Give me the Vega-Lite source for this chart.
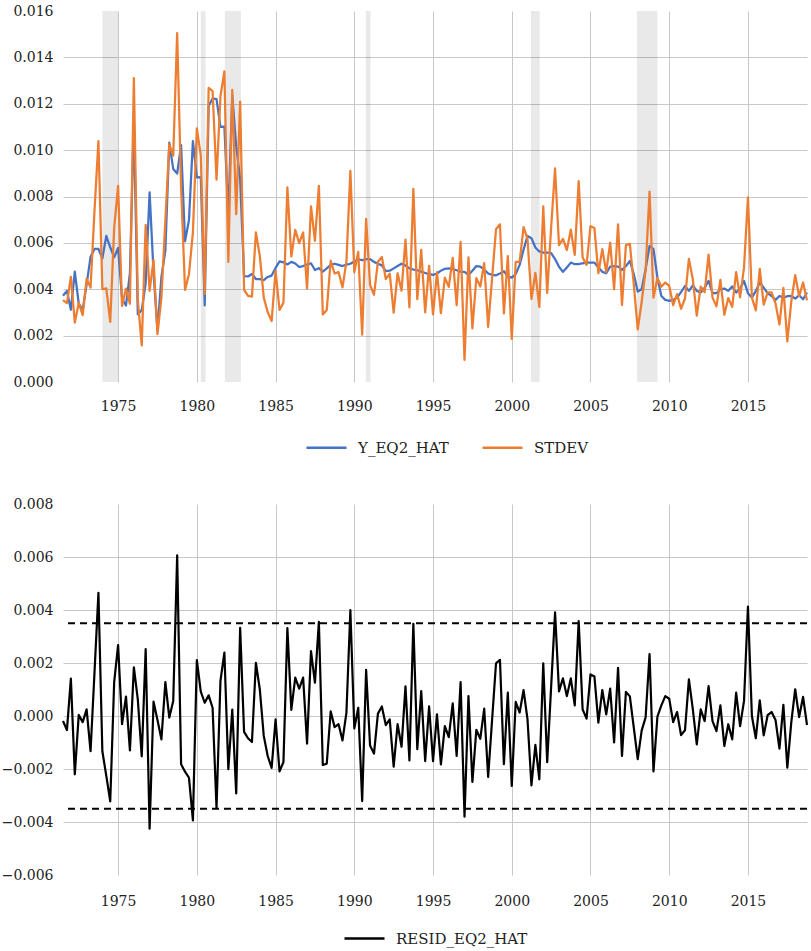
{
  "$schema": "https://vega.github.io/schema/vega-lite/v6.json",
  "background": "white",
  "padding": {"left": 1, "top": 4, "right": 4, "bottom": 12},
  "bounds": "flush",
  "spacing": 122,
  "config": {
    "view": {"stroke": null},
    "font": "DejaVu Serif",
    "style": {"guide-label": {"font": "DejaVu Serif"}},
    "axis": {"domain": false, "ticks": false, "tickSize": 0, "labelFont": "DejaVu Serif", "labelFontSize": 14, "labelColor": "#222222", "gridColor": "#c8c8c8", "gridWidth": 1},
    "legend": {"labelFont": "DejaVu Serif", "labelFontSize": 15, "labelColor": "#222222", "padding": 0}
  },
  "resolve": {"scale": {"color": "independent"}, "legend": {"color": "independent"}},
  "datasets": {
    "bands": [
      {"s": 1974.0, "e": 1975.0},
      {"s": 1980.25, "e": 1980.55},
      {"s": 1981.78, "e": 1982.8},
      {"s": 1990.73, "e": 1991.03},
      {"s": 2001.22, "e": 2001.77},
      {"s": 2007.95, "e": 2009.25}
    ],
    "thr": [{"v": 0.0035}, {"v": -0.0035}],
    "d": [
      {"t": 1971.5, "yhat": 0.00372, "stdev": 0.00353, "resid": -0.00019},
      {"t": 1971.75, "yhat": 0.00393, "stdev": 0.0034, "resid": -0.00053},
      {"t": 1972, "yhat": 0.00312, "stdev": 0.00453, "resid": 0.00141},
      {"t": 1972.25, "yhat": 0.00476, "stdev": 0.00256, "resid": -0.0022},
      {"t": 1972.5, "yhat": 0.00338, "stdev": 0.00342, "resid": 0.00004},
      {"t": 1972.75, "yhat": 0.00311, "stdev": 0.00288, "resid": -0.00023},
      {"t": 1973, "yhat": 0.00421, "stdev": 0.00446, "resid": 0.00025},
      {"t": 1973.25, "yhat": 0.0054, "stdev": 0.00407, "resid": -0.00133},
      {"t": 1973.5, "yhat": 0.00574, "stdev": 0.00738, "resid": 0.00164},
      {"t": 1973.75, "yhat": 0.00574, "stdev": 0.01039, "resid": 0.00465},
      {"t": 1974, "yhat": 0.00533, "stdev": 0.004, "resid": -0.00133},
      {"t": 1974.25, "yhat": 0.0063, "stdev": 0.00404, "resid": -0.00226},
      {"t": 1974.5, "yhat": 0.00581, "stdev": 0.00259, "resid": -0.00322},
      {"t": 1974.75, "yhat": 0.00538, "stdev": 0.00666, "resid": 0.00128},
      {"t": 1975, "yhat": 0.00578, "stdev": 0.00846, "resid": 0.00268},
      {"t": 1975.25, "yhat": 0.00359, "stdev": 0.00328, "resid": -0.00031},
      {"t": 1975.5, "yhat": 0.0033, "stdev": 0.00403, "resid": 0.00073},
      {"t": 1975.75, "yhat": 0.00468, "stdev": 0.00338, "resid": -0.0013},
      {"t": 1976, "yhat": 0.01127, "stdev": 0.01311, "resid": 0.00184},
      {"t": 1976.25, "yhat": 0.00292, "stdev": 0.00355, "resid": 0.00063},
      {"t": 1976.5, "yhat": 0.0031, "stdev": 0.00158, "resid": -0.00152},
      {"t": 1976.75, "yhat": 0.00426, "stdev": 0.00678, "resid": 0.00252},
      {"t": 1977, "yhat": 0.00818, "stdev": 0.00393, "resid": -0.00425},
      {"t": 1977.25, "yhat": 0.00473, "stdev": 0.00527, "resid": 0.00054},
      {"t": 1977.5, "yhat": 0.00221, "stdev": 0.00206, "resid": -0.00015},
      {"t": 1977.75, "yhat": 0.00452, "stdev": 0.00364, "resid": -0.00088},
      {"t": 1978, "yhat": 0.00567, "stdev": 0.00695, "resid": 0.00128},
      {"t": 1978.25, "yhat": 0.01032, "stdev": 0.01026, "resid": -0.00006},
      {"t": 1978.5, "yhat": 0.00919, "stdev": 0.00976, "resid": 0.00057},
      {"t": 1978.75, "yhat": 0.00899, "stdev": 0.01505, "resid": 0.00606},
      {"t": 1979, "yhat": 0.01022, "stdev": 0.0084, "resid": -0.00182},
      {"t": 1979.25, "yhat": 0.00607, "stdev": 0.00397, "resid": -0.0021},
      {"t": 1979.5, "yhat": 0.00698, "stdev": 0.00465, "resid": -0.00233},
      {"t": 1979.75, "yhat": 0.01039, "stdev": 0.00645, "resid": -0.00394},
      {"t": 1980, "yhat": 0.00883, "stdev": 0.01094, "resid": 0.00211},
      {"t": 1980.25, "yhat": 0.00884, "stdev": 0.00976, "resid": 0.00092},
      {"t": 1980.5, "yhat": 0.0033, "stdev": 0.0038, "resid": 0.0005},
      {"t": 1980.75, "yhat": 0.0119, "stdev": 0.01268, "resid": 0.00078},
      {"t": 1981, "yhat": 0.01223, "stdev": 0.01254, "resid": 0.00031},
      {"t": 1981.25, "yhat": 0.0122, "stdev": 0.00873, "resid": -0.00347},
      {"t": 1981.5, "yhat": 0.011, "stdev": 0.01233, "resid": 0.00133},
      {"t": 1981.75, "yhat": 0.01101, "stdev": 0.0134, "resid": 0.00239},
      {"t": 1982, "yhat": 0.00719, "stdev": 0.00518, "resid": -0.00201},
      {"t": 1982.25, "yhat": 0.01236, "stdev": 0.0126, "resid": 0.00024},
      {"t": 1982.5, "yhat": 0.01016, "stdev": 0.00724, "resid": -0.00292},
      {"t": 1982.75, "yhat": 0.00876, "stdev": 0.01209, "resid": 0.00333},
      {"t": 1983, "yhat": 0.00457, "stdev": 0.00397, "resid": -0.0006},
      {"t": 1983.25, "yhat": 0.00455, "stdev": 0.00371, "resid": -0.00084},
      {"t": 1983.5, "yhat": 0.00466, "stdev": 0.00368, "resid": -0.00098},
      {"t": 1983.75, "yhat": 0.00444, "stdev": 0.00645, "resid": 0.00201},
      {"t": 1984, "yhat": 0.00444, "stdev": 0.00544, "resid": 0.001},
      {"t": 1984.25, "yhat": 0.00439, "stdev": 0.00364, "resid": -0.00075},
      {"t": 1984.5, "yhat": 0.00453, "stdev": 0.00302, "resid": -0.00151},
      {"t": 1984.75, "yhat": 0.00459, "stdev": 0.00263, "resid": -0.00196},
      {"t": 1985, "yhat": 0.00492, "stdev": 0.00479, "resid": -0.00013},
      {"t": 1985.25, "yhat": 0.0052, "stdev": 0.00311, "resid": -0.00209},
      {"t": 1985.5, "yhat": 0.00516, "stdev": 0.00342, "resid": -0.00174},
      {"t": 1985.75, "yhat": 0.00507, "stdev": 0.00839, "resid": 0.00332},
      {"t": 1986, "yhat": 0.00518, "stdev": 0.00541, "resid": 0.00023},
      {"t": 1986.25, "yhat": 0.00511, "stdev": 0.00656, "resid": 0.00145},
      {"t": 1986.5, "yhat": 0.00496, "stdev": 0.00599, "resid": 0.00103},
      {"t": 1986.75, "yhat": 0.005, "stdev": 0.00645, "resid": 0.00145},
      {"t": 1987, "yhat": 0.00507, "stdev": 0.00403, "resid": -0.00104},
      {"t": 1987.25, "yhat": 0.00512, "stdev": 0.00757, "resid": 0.00245},
      {"t": 1987.5, "yhat": 0.00483, "stdev": 0.00609, "resid": 0.00126},
      {"t": 1987.75, "yhat": 0.00491, "stdev": 0.00846, "resid": 0.00355},
      {"t": 1988, "yhat": 0.00476, "stdev": 0.00291, "resid": -0.00185},
      {"t": 1988.25, "yhat": 0.0049, "stdev": 0.0031, "resid": -0.0018},
      {"t": 1988.5, "yhat": 0.00505, "stdev": 0.00523, "resid": 0.00018},
      {"t": 1988.75, "yhat": 0.0051, "stdev": 0.00468, "resid": -0.00042},
      {"t": 1989, "yhat": 0.00505, "stdev": 0.00474, "resid": -0.00031},
      {"t": 1989.25, "yhat": 0.005, "stdev": 0.00408, "resid": -0.00092},
      {"t": 1989.5, "yhat": 0.00506, "stdev": 0.00519, "resid": 0.00013},
      {"t": 1989.75, "yhat": 0.0051, "stdev": 0.0091, "resid": 0.004},
      {"t": 1990, "yhat": 0.0052, "stdev": 0.00473, "resid": -0.00047},
      {"t": 1990.25, "yhat": 0.0053, "stdev": 0.00561, "resid": 0.00031},
      {"t": 1990.5, "yhat": 0.00525, "stdev": 0.00204, "resid": -0.00321},
      {"t": 1990.75, "yhat": 0.0053, "stdev": 0.00704, "resid": 0.00174},
      {"t": 1991, "yhat": 0.0053, "stdev": 0.00419, "resid": -0.00111},
      {"t": 1991.25, "yhat": 0.00518, "stdev": 0.00376, "resid": -0.00142},
      {"t": 1991.5, "yhat": 0.0051, "stdev": 0.00519, "resid": 0.00009},
      {"t": 1991.75, "yhat": 0.00503, "stdev": 0.00539, "resid": 0.00036},
      {"t": 1992, "yhat": 0.00478, "stdev": 0.00444, "resid": -0.00034},
      {"t": 1992.25, "yhat": 0.0048, "stdev": 0.00467, "resid": -0.00013},
      {"t": 1992.5, "yhat": 0.0049, "stdev": 0.00299, "resid": -0.00191},
      {"t": 1992.75, "yhat": 0.005, "stdev": 0.00469, "resid": -0.00031},
      {"t": 1993, "yhat": 0.0051, "stdev": 0.00394, "resid": -0.00116},
      {"t": 1993.25, "yhat": 0.00502, "stdev": 0.00614, "resid": 0.00112},
      {"t": 1993.5, "yhat": 0.0049, "stdev": 0.00322, "resid": -0.00168},
      {"t": 1993.75, "yhat": 0.00485, "stdev": 0.00833, "resid": 0.00348},
      {"t": 1994, "yhat": 0.00482, "stdev": 0.00357, "resid": -0.00125},
      {"t": 1994.25, "yhat": 0.00476, "stdev": 0.0057, "resid": 0.00094},
      {"t": 1994.5, "yhat": 0.0047, "stdev": 0.003, "resid": -0.0017},
      {"t": 1994.75, "yhat": 0.00465, "stdev": 0.00501, "resid": 0.00036},
      {"t": 1995, "yhat": 0.00462, "stdev": 0.00292, "resid": -0.0017},
      {"t": 1995.25, "yhat": 0.00468, "stdev": 0.00474, "resid": 0.00006},
      {"t": 1995.5, "yhat": 0.0048, "stdev": 0.00297, "resid": -0.00183},
      {"t": 1995.75, "yhat": 0.00488, "stdev": 0.0045, "resid": -0.00038},
      {"t": 1996, "yhat": 0.0049, "stdev": 0.0041, "resid": -0.0008},
      {"t": 1996.25, "yhat": 0.00487, "stdev": 0.00535, "resid": 0.00048},
      {"t": 1996.5, "yhat": 0.00482, "stdev": 0.00331, "resid": -0.00151},
      {"t": 1996.75, "yhat": 0.00476, "stdev": 0.00604, "resid": 0.00128},
      {"t": 1997, "yhat": 0.00475, "stdev": 0.00095, "resid": -0.0038},
      {"t": 1997.25, "yhat": 0.00462, "stdev": 0.00537, "resid": 0.00075},
      {"t": 1997.5, "yhat": 0.0048, "stdev": 0.00231, "resid": -0.00249},
      {"t": 1997.75, "yhat": 0.005, "stdev": 0.00448, "resid": -0.00052},
      {"t": 1998, "yhat": 0.00498, "stdev": 0.00412, "resid": -0.00086},
      {"t": 1998.25, "yhat": 0.00485, "stdev": 0.00513, "resid": 0.00028},
      {"t": 1998.5, "yhat": 0.00468, "stdev": 0.00238, "resid": -0.0023},
      {"t": 1998.75, "yhat": 0.00462, "stdev": 0.00447, "resid": -0.00015},
      {"t": 1999, "yhat": 0.0046, "stdev": 0.00659, "resid": 0.00199},
      {"t": 1999.25, "yhat": 0.00468, "stdev": 0.0068, "resid": 0.00212},
      {"t": 1999.5, "yhat": 0.00478, "stdev": 0.00296, "resid": -0.00182},
      {"t": 1999.75, "yhat": 0.00455, "stdev": 0.00543, "resid": 0.00088},
      {"t": 2000, "yhat": 0.0045, "stdev": 0.00186, "resid": -0.00264},
      {"t": 2000.25, "yhat": 0.00465, "stdev": 0.00518, "resid": 0.00053},
      {"t": 2000.5, "yhat": 0.00505, "stdev": 0.00518, "resid": 0.00013},
      {"t": 2000.75, "yhat": 0.0057, "stdev": 0.00668, "resid": 0.00098},
      {"t": 2001, "yhat": 0.0063, "stdev": 0.00617, "resid": -0.00013},
      {"t": 2001.25, "yhat": 0.0062, "stdev": 0.00358, "resid": -0.00262},
      {"t": 2001.5, "yhat": 0.0058, "stdev": 0.00471, "resid": -0.00109},
      {"t": 2001.75, "yhat": 0.00563, "stdev": 0.00324, "resid": -0.00239},
      {"t": 2002, "yhat": 0.00558, "stdev": 0.00757, "resid": 0.00199},
      {"t": 2002.25, "yhat": 0.00558, "stdev": 0.00384, "resid": -0.00174},
      {"t": 2002.5, "yhat": 0.00556, "stdev": 0.00666, "resid": 0.0011},
      {"t": 2002.75, "yhat": 0.0053, "stdev": 0.00921, "resid": 0.00391},
      {"t": 2003, "yhat": 0.00497, "stdev": 0.0059, "resid": 0.00093},
      {"t": 2003.25, "yhat": 0.00475, "stdev": 0.00617, "resid": 0.00142},
      {"t": 2003.5, "yhat": 0.00494, "stdev": 0.00569, "resid": 0.00075},
      {"t": 2003.75, "yhat": 0.00515, "stdev": 0.00657, "resid": 0.00142},
      {"t": 2004, "yhat": 0.00508, "stdev": 0.00548, "resid": 0.0004},
      {"t": 2004.25, "yhat": 0.00508, "stdev": 0.00866, "resid": 0.00358},
      {"t": 2004.5, "yhat": 0.00512, "stdev": 0.00537, "resid": 0.00025},
      {"t": 2004.75, "yhat": 0.00515, "stdev": 0.00505, "resid": -0.0001},
      {"t": 2005, "yhat": 0.00515, "stdev": 0.00672, "resid": 0.00157},
      {"t": 2005.25, "yhat": 0.00515, "stdev": 0.00664, "resid": 0.00149},
      {"t": 2005.5, "yhat": 0.00494, "stdev": 0.00469, "resid": -0.00025},
      {"t": 2005.75, "yhat": 0.00475, "stdev": 0.00573, "resid": 0.00098},
      {"t": 2006, "yhat": 0.00469, "stdev": 0.00475, "resid": 0.00006},
      {"t": 2006.25, "yhat": 0.00498, "stdev": 0.00601, "resid": 0.00103},
      {"t": 2006.5, "yhat": 0.005, "stdev": 0.004, "resid": -0.001},
      {"t": 2006.75, "yhat": 0.00498, "stdev": 0.0068, "resid": 0.00182},
      {"t": 2007, "yhat": 0.00483, "stdev": 0.00332, "resid": -0.00151},
      {"t": 2007.25, "yhat": 0.005, "stdev": 0.00591, "resid": 0.00091},
      {"t": 2007.5, "yhat": 0.00522, "stdev": 0.00596, "resid": 0.00074},
      {"t": 2007.75, "yhat": 0.00465, "stdev": 0.00421, "resid": -0.00044},
      {"t": 2008, "yhat": 0.0039, "stdev": 0.00227, "resid": -0.00163},
      {"t": 2008.25, "yhat": 0.004, "stdev": 0.00345, "resid": -0.00055},
      {"t": 2008.5, "yhat": 0.00486, "stdev": 0.00481, "resid": -0.00005},
      {"t": 2008.75, "yhat": 0.00587, "stdev": 0.00821, "resid": 0.00234},
      {"t": 2009, "yhat": 0.00573, "stdev": 0.00364, "resid": -0.00209},
      {"t": 2009.25, "yhat": 0.0045, "stdev": 0.00448, "resid": -0.00002},
      {"t": 2009.5, "yhat": 0.00371, "stdev": 0.00411, "resid": 0.0004},
      {"t": 2009.75, "yhat": 0.00354, "stdev": 0.00429, "resid": 0.00075},
      {"t": 2010, "yhat": 0.0035, "stdev": 0.00415, "resid": 0.00065},
      {"t": 2010.25, "yhat": 0.00354, "stdev": 0.00331, "resid": -0.00023},
      {"t": 2010.5, "yhat": 0.00364, "stdev": 0.00379, "resid": 0.00015},
      {"t": 2010.75, "yhat": 0.00388, "stdev": 0.00316, "resid": -0.00072},
      {"t": 2011, "yhat": 0.00414, "stdev": 0.0036, "resid": -0.00054},
      {"t": 2011.25, "yhat": 0.00393, "stdev": 0.00531, "resid": 0.00138},
      {"t": 2011.5, "yhat": 0.00417, "stdev": 0.00442, "resid": 0.00025},
      {"t": 2011.75, "yhat": 0.00393, "stdev": 0.00286, "resid": -0.00107},
      {"t": 2012, "yhat": 0.00386, "stdev": 0.00411, "resid": 0.00025},
      {"t": 2012.25, "yhat": 0.00407, "stdev": 0.00388, "resid": -0.00019},
      {"t": 2012.5, "yhat": 0.00436, "stdev": 0.00549, "resid": 0.00113},
      {"t": 2012.75, "yhat": 0.00383, "stdev": 0.00364, "resid": -0.00019},
      {"t": 2013, "yhat": 0.00383, "stdev": 0.00326, "resid": -0.00057},
      {"t": 2013.25, "yhat": 0.004, "stdev": 0.0044, "resid": 0.0004},
      {"t": 2013.5, "yhat": 0.00403, "stdev": 0.0029, "resid": -0.00113},
      {"t": 2013.75, "yhat": 0.00393, "stdev": 0.00362, "resid": -0.00031},
      {"t": 2014, "yhat": 0.00412, "stdev": 0.00324, "resid": -0.00088},
      {"t": 2014.25, "yhat": 0.00386, "stdev": 0.00474, "resid": 0.00088},
      {"t": 2014.5, "yhat": 0.00403, "stdev": 0.00365, "resid": -0.00038},
      {"t": 2014.75, "yhat": 0.00436, "stdev": 0.00493, "resid": 0.00057},
      {"t": 2015, "yhat": 0.00383, "stdev": 0.00796, "resid": 0.00413},
      {"t": 2015.25, "yhat": 0.00364, "stdev": 0.00364, "resid": 0},
      {"t": 2015.5, "yhat": 0.00393, "stdev": 0.00309, "resid": -0.00084},
      {"t": 2015.75, "yhat": 0.00429, "stdev": 0.00488, "resid": 0.00059},
      {"t": 2016, "yhat": 0.00407, "stdev": 0.00334, "resid": -0.00073},
      {"t": 2016.25, "yhat": 0.00383, "stdev": 0.00386, "resid": 0.00003},
      {"t": 2016.5, "yhat": 0.00371, "stdev": 0.00386, "resid": 0.00015},
      {"t": 2016.75, "yhat": 0.00354, "stdev": 0.00339, "resid": -0.00015},
      {"t": 2017, "yhat": 0.00371, "stdev": 0.00248, "resid": -0.00123},
      {"t": 2017.25, "yhat": 0.00364, "stdev": 0.00406, "resid": 0.00042},
      {"t": 2017.5, "yhat": 0.0037, "stdev": 0.00175, "resid": -0.00195},
      {"t": 2017.75, "yhat": 0.00371, "stdev": 0.00346, "resid": -0.00025},
      {"t": 2018, "yhat": 0.0036, "stdev": 0.00461, "resid": 0.00101},
      {"t": 2018.25, "yhat": 0.00374, "stdev": 0.0037, "resid": -0.00004},
      {"t": 2018.5, "yhat": 0.00357, "stdev": 0.00429, "resid": 0.00072},
      {"t": 2018.75, "yhat": 0.00386, "stdev": 0.00352, "resid": -0.00034}
    ]
  },
  "vconcat": [
    {
      "width": 744,
      "height": 371,
      "layer": [
        {
          "data": {"name": "bands"},
          "mark": {"type": "rect", "color": "#000000", "opacity": 0.085},
          "encoding": {
            "x": {"field": "s", "type": "quantitative", "title": null, "scale": {"domain": [1971.5, 2018.75], "nice": false, "zero": false}},
            "x2": {"field": "e"}
          }
        },
        {
          "data": {"name": "d"},
          "mark": {"type": "line", "strokeWidth": 2.25, "strokeJoin": "round"},
          "encoding": {
            "x": {"field": "t", "type": "quantitative", "title": null,
                  "scale": {"domain": [1971.5, 2018.75], "nice": false, "zero": false},
                  "axis": {"values": [1975, 1980, 1985, 1990, 1995, 2000, 2005, 2010, 2015], "format": "d", "labelPadding": 17, "grid": true, "title": null, "labelFont": "DejaVu Serif"}},
            "y": {"field": "yhat", "type": "quantitative", "title": null,
                  "scale": {"domain": [0, 0.016], "nice": false, "zero": false},
                  "axis": {"values": [0, 0.002, 0.004, 0.006, 0.008, 0.01, 0.012, 0.014, 0.016], "format": ".3f", "labelPadding": 10, "minExtent": 62, "maxExtent": 62, "title": null, "labelFont": "DejaVu Serif",
                           "gridOpacity": {"condition": {"test": "datum.value > 0.0155 || datum.value < 0.0005", "value": 0}, "value": 1}}},
            "color": {"datum": "Y_EQ2_HAT", "type": "nominal",
                      "scale": {"domain": ["Y_EQ2_HAT", "STDEV"], "range": ["#4472C4", "#ED7D31"]},
                      "legend": {"title": null, "orient": "none", "direction": "horizontal", "legendX": 242, "legendY": 415, "labelFont": "DejaVu Serif",
                                 "symbolType": "stroke", "symbolSize": 1600, "symbolStrokeWidth": 2.5, "labelOffset": 10, "columnPadding": 28}}
          }
        },
        {
          "data": {"name": "d"},
          "mark": {"type": "line", "strokeWidth": 2.25, "strokeJoin": "round"},
          "encoding": {
            "x": {"field": "t", "type": "quantitative", "title": null},
            "y": {"field": "stdev", "type": "quantitative", "title": null},
            "color": {"datum": "STDEV", "type": "nominal"}
          }
        }
      ]
    },
    {
      "width": 744,
      "height": 371,
      "layer": [
        {
          "data": {"name": "d"},
          "mark": {"type": "line", "strokeWidth": 2.2, "strokeJoin": "round"},
          "encoding": {
            "x": {"field": "t", "type": "quantitative", "title": null,
                  "scale": {"domain": [1971.5, 2018.75], "nice": false, "zero": false},
                  "axis": {"values": [1975, 1980, 1985, 1990, 1995, 2000, 2005, 2010, 2015], "format": "d", "labelPadding": 19, "grid": true, "title": null, "labelFont": "DejaVu Serif"}},
            "y": {"field": "resid", "type": "quantitative", "title": null,
                  "scale": {"domain": [-0.006, 0.008], "nice": false, "zero": false},
                  "axis": {"values": [-0.006, -0.004, -0.002, 0, 0.002, 0.004, 0.006, 0.008], "format": ".3f", "labelPadding": 10, "minExtent": 62, "maxExtent": 62, "title": null, "labelFont": "DejaVu Serif",
                           "gridOpacity": {"condition": {"test": "datum.value > 0.0075 || datum.value < -0.0055", "value": 0}, "value": 1}}},
            "color": {"datum": "RESID_EQ2_HAT", "type": "nominal",
                      "scale": {"domain": ["RESID_EQ2_HAT"], "range": ["#000000"]},
                      "legend": {"title": null, "orient": "none", "direction": "horizontal", "legendX": 280, "legendY": 413, "labelFont": "DejaVu Serif",
                                 "symbolType": "stroke", "symbolSize": 1600, "symbolStrokeWidth": 2.5, "labelOffset": 10}}
          }
        },
        {
          "data": {"name": "thr"},
          "mark": {"type": "rule", "strokeDash": [7, 5], "strokeWidth": 2, "color": "#000000"},
          "encoding": {
            "y": {"field": "v", "type": "quantitative", "title": null}
          }
        }
      ]
    }
  ]
}
